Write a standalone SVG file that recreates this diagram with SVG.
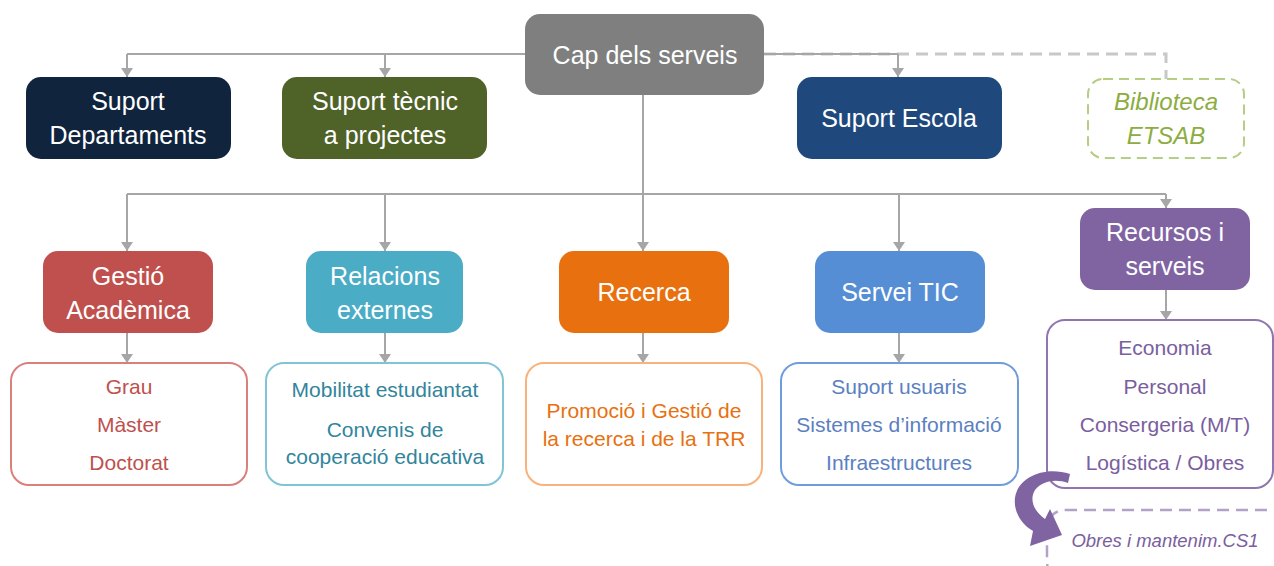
<svg xmlns="http://www.w3.org/2000/svg" width="1274" height="566" viewBox="0 0 1274 566">
<style>
text{font-family:"Liberation Sans",Arial,sans-serif;text-anchor:middle;dominant-baseline:central}
.t{font-size:25px;fill:#ffffff}
.s{font-size:21px}
.c{fill:none;stroke:#a6a6a6;stroke-width:2}
.ca{fill:none;stroke:#a6a6a6;stroke-width:2;marker-end:url(#ah)}
.d{fill:none;stroke:#c8c8c8;stroke-width:3;stroke-dasharray:12 7}
</style>
<defs>
<marker id="ah" markerUnits="userSpaceOnUse" markerWidth="12" markerHeight="10" refX="6" refY="9" orient="0" viewBox="0 0 12 10">
<path d="M0,0 L12,0 L6,9 Z" fill="#a6a6a6"/>
</marker>
</defs>
<g id="connectors">
<path class="d" d="M764,54 H1166 V79"/>
<path class="c" d="M127,54 H525"/>
<path class="c" d="M764,54 H898"/>
<path class="ca" d="M127,54 V77"/>
<path class="ca" d="M385,54 V77"/>
<path class="ca" d="M898,54 V77"/>
<path class="c" d="M643,95 V194"/>
<path class="c" d="M127,194 H1166"/>
<path class="ca" d="M127,194 V251"/>
<path class="ca" d="M385,194 V251"/>
<path class="ca" d="M643,194 V251"/>
<path class="ca" d="M899,194 V251"/>
<path class="ca" d="M1166,194 V208"/>
<path class="ca" d="M127,333 V363"/>
<path class="ca" d="M385,333 V363"/>
<path class="ca" d="M643,333 V363"/>
<path class="ca" d="M899,333 V363"/>
<path class="ca" d="M1166,290 V320"/>
</g>
<g id="cap"><rect x="525" y="14" width="239" height="81" rx="15" fill="#7f7f7f"/><text class="t" x="645" y="55">Cap dels serveis</text></g>
<g id="suport-departaments"><rect x="26" y="77" width="205" height="82" rx="15" fill="#10243e"/><text class="t" x="128" y="101">Suport</text><text class="t" x="128" y="135">Departaments</text></g>
<g id="suport-tecnic"><rect x="282" y="77" width="205" height="82" rx="15" fill="#4f6228"/><text class="t" x="385" y="101">Suport tècnic</text><text class="t" x="385" y="135">a projectes</text></g>
<g id="suport-escola"><rect x="797" y="77" width="205" height="82" rx="15" fill="#1f497d"/><text class="t" x="899" y="118">Suport Escola</text></g>
<g id="biblioteca"><rect x="1088" y="79" width="156" height="79" rx="15" fill="#ffffff" stroke="#b5cd85" stroke-width="2" stroke-dasharray="10 6"/><text class="t" x="1166" y="101" style="fill:#8cad3f;font-style:italic;font-size:24px">Biblioteca</text><text class="t" x="1166" y="135" style="fill:#8cad3f;font-style:italic;font-size:24px">ETSAB</text></g>
<g id="gestio"><rect x="43" y="251" width="170" height="82" rx="15" fill="#c0504d"/><text class="t" x="128" y="276">Gestió</text><text class="t" x="128" y="310">Acadèmica</text></g>
<g id="relacions"><rect x="306" y="251" width="157" height="82" rx="15" fill="#4bacc6"/><text class="t" x="385" y="276">Relacions</text><text class="t" x="385" y="310">externes</text></g>
<g id="recerca"><rect x="559" y="251" width="170" height="82" rx="15" fill="#e8700f"/><text class="t" x="644" y="292">Recerca</text></g>
<g id="servei-tic"><rect x="815" y="251" width="170" height="82" rx="15" fill="#558ed5"/><text class="t" x="900" y="292">Servei TIC</text></g>
<g id="recursos"><rect x="1080" y="208" width="170" height="82" rx="15" fill="#8064a2"/><text class="t" x="1165" y="232">Recursos i</text><text class="t" x="1165" y="266">serveis</text></g>
<g id="academica-list"><rect x="11" y="363" width="236" height="122" rx="18" fill="#ffffff" stroke="#d9807d" stroke-width="2"/><g class="s" fill="#c0504d"><text x="129" y="386">Grau</text><text x="129" y="424">Màster</text><text x="129" y="462">Doctorat</text></g></g>
<g id="relacions-list"><rect x="266" y="363" width="237" height="122" rx="18" fill="#ffffff" stroke="#80c4d6" stroke-width="2"/><g class="s" fill="#31859c"><text x="385" y="389">Mobilitat estudiantat</text><text x="385" y="429">Convenis de</text><text x="385" y="456">cooperació educativa</text></g></g>
<g id="recerca-list"><rect x="526" y="363" width="236" height="122" rx="18" fill="#ffffff" stroke="#f9b27c" stroke-width="2"/><g class="s" fill="#e8700f"><text x="644" y="410">Promoció i Gestió de</text><text x="644" y="438">la recerca i de la TRR</text></g></g>
<g id="tic-list"><rect x="781" y="363" width="237" height="122" rx="18" fill="#ffffff" stroke="#6f9ddb" stroke-width="2"/><g class="s" fill="#5b80c2"><text x="899" y="386">Suport usuaris</text><text x="899" y="424">Sistemes d’informació</text><text x="899" y="462">Infraestructures</text></g></g>
<g id="recursos-list"><rect x="1047" y="320" width="226" height="168" rx="18" fill="#ffffff" stroke="#8f76b0" stroke-width="2"/><g class="s" fill="#7a5e9e"><text x="1165" y="347">Economia</text><text x="1165" y="386">Personal</text><text x="1165" y="424">Consergeria (M/T)</text><text x="1165" y="462">Logística / Obres</text></g></g>
<g id="obres"><rect x="1047" y="510" width="250" height="70" rx="18" fill="#ffffff" stroke="#b3a2c7" stroke-width="2.5" stroke-dasharray="12 7"/><text x="1165" y="540" style="font-size:18.5px;font-style:italic;fill:#7a5e9e">Obres i mantenim.CS1</text></g>
<g id="curved-arrow"><path d="M1070,474 C1040,464 1008,482 1016,510 C1019,520 1026,527 1033,531 L1030,546 L1062,535 L1050,509 L1045,519 C1034,511 1029,500 1035,490 C1043,480 1057,479 1068,483 Z" fill="#8064a2"/></g>
</svg>
